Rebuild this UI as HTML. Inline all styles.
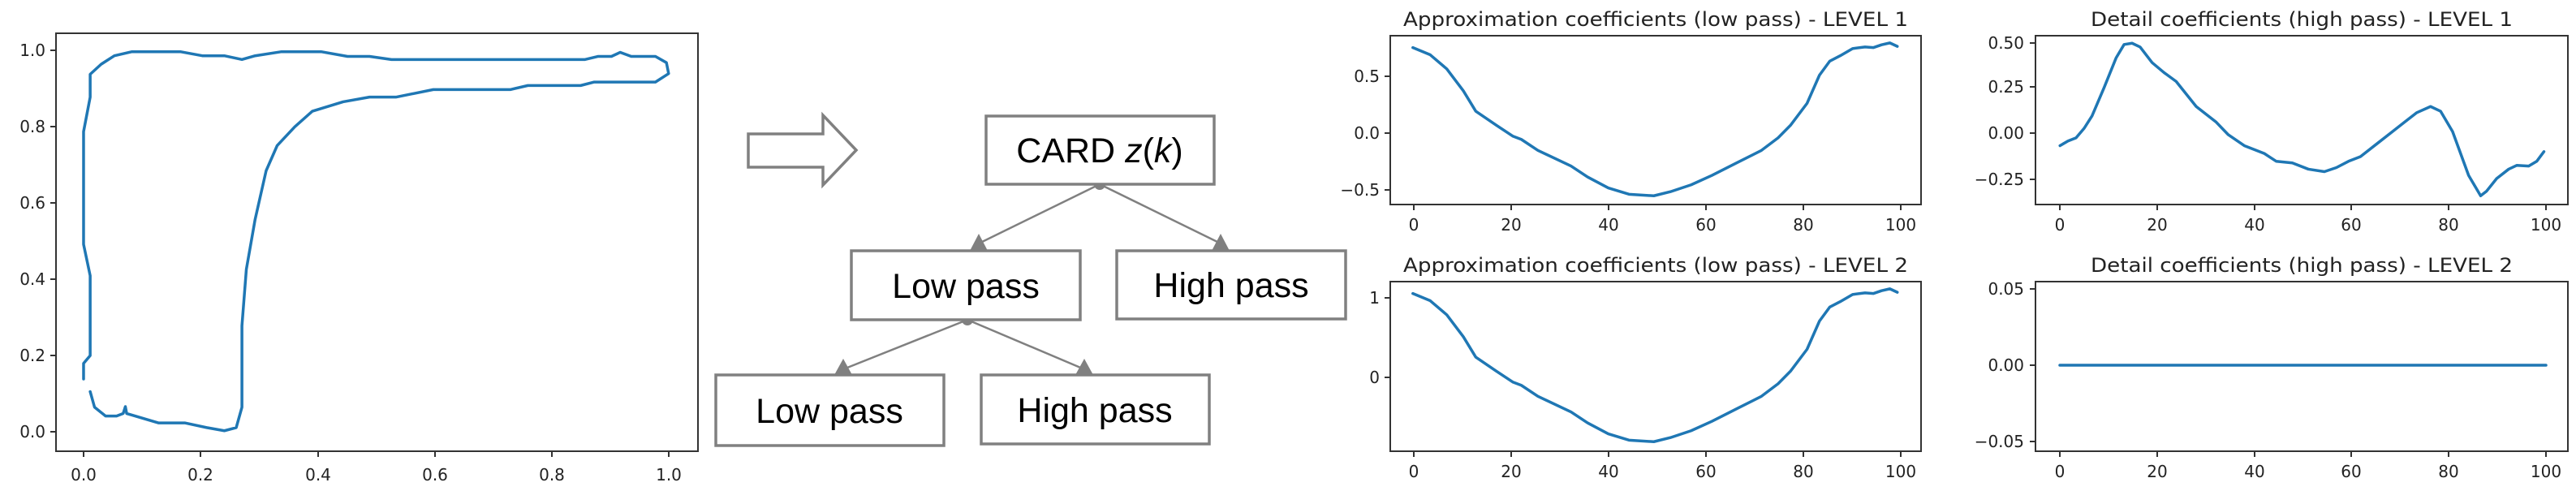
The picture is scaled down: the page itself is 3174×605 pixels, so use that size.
<!DOCTYPE html>
<html><head><meta charset="utf-8"><style>
html,body{margin:0;padding:0;background:#fff;}
svg{display:block;}
.t{font-family:"DejaVu Sans","Liberation Sans",sans-serif;font-size:20px;fill:#222;}
.ti{font-family:"DejaVu Sans","Liberation Sans",sans-serif;font-size:24px;fill:#222;}
.bx{font-family:"Liberation Sans",Arial,sans-serif;font-size:43px;fill:#000;}
.sp{fill:none;stroke:#333;stroke-width:2;}
.tk{stroke:#333;stroke-width:2;}
.cv{fill:none;stroke:#1f77b4;stroke-width:3.5;stroke-linejoin:round;stroke-linecap:round;}
.gb{fill:#fff;stroke:#808080;stroke-width:3.5;}
</style></head><body>
<svg width="3174" height="605" viewBox="0 0 3174 605" xmlns="http://www.w3.org/2000/svg">
<rect width="3174" height="605" fill="#fff"/>

<!-- Plot 1 -->
<rect class="sp" x="69" y="41" width="791" height="515"/>
<g class="tk">
<line x1="103" y1="556" x2="103" y2="563"/><line x1="247" y1="556" x2="247" y2="563"/><line x1="392" y1="556" x2="392" y2="563"/><line x1="536" y1="556" x2="536" y2="563"/><line x1="680" y1="556" x2="680" y2="563"/><line x1="824" y1="556" x2="824" y2="563"/>
<line x1="62" y1="532" x2="69" y2="532"/><line x1="62" y1="438" x2="69" y2="438"/><line x1="62" y1="344" x2="69" y2="344"/><line x1="62" y1="250" x2="69" y2="250"/><line x1="62" y1="156" x2="69" y2="156"/><line x1="62" y1="62" x2="69" y2="62"/>
</g>
<g class="t" text-anchor="middle">
<text x="103" y="592">0.0</text><text x="247" y="592">0.2</text><text x="392" y="592">0.4</text><text x="536" y="592">0.6</text><text x="680" y="592">0.8</text><text x="824" y="592">1.0</text>
</g>
<g class="t" text-anchor="end">
<text x="56" y="539">0.0</text><text x="56" y="445">0.2</text><text x="56" y="351">0.4</text><text x="56" y="257">0.6</text><text x="56" y="163">0.8</text><text x="56" y="69">1.0</text>
</g>
<g transform="scale(0.542,0.386)">
<path class="cv" vector-effect="non-scaling-stroke" d="M190,1210 L190,1160 205,1135 205,880 190,780 190,420 205,310 205,237 230,205 260,178 300,165 410,165 460,178 510,178 550,190 580,178 640,165 730,165 790,180 840,180 890,190 1330,190 1360,180 1390,180 1410,167 1435,180 1490,180 1515,200 1520,235 1490,262 1350,262 1320,273 1200,273 1160,286 985,286 900,310 840,310 780,325 710,355 670,405 630,465 605,545 580,700 560,860 550,1040 550,1300 537,1365 510,1375 470,1365 420,1350 360,1350 300,1325 288,1320 285,1298 280,1320 265,1328 240,1328 215,1300 205,1250"/>
</g>

<!-- Block arrow -->
<polygon class="gb" points="922,165 1014,165 1014,142 1055,185 1014,228 1014,206 922,206" stroke-width="3"/>

<!-- Tree -->
<g stroke="#808080" stroke-width="2.5">
<line x1="1355" y1="227" x2="1206" y2="300"/><line x1="1355" y1="227" x2="1504" y2="300"/>
<line x1="1192" y1="394" x2="1039" y2="455"/><line x1="1192" y1="394" x2="1336" y2="455"/>
</g>
<g fill="#808080">
<polygon points="1206,288 1195,309 1217,309"/><polygon points="1504,288 1493,309 1515,309"/>
<polygon points="1039,442 1028,462 1050,462"/><polygon points="1336,442 1325,462 1347,462"/>
<circle cx="1355" cy="227" r="7"/><circle cx="1192" cy="394" r="7"/>
</g>
<rect class="gb" x="1215" y="143" width="281" height="84"/>
<rect class="gb" x="1049" y="309" width="282" height="85"/>
<rect class="gb" x="1376" y="309" width="282" height="84"/>
<rect class="gb" x="882" y="462" width="281" height="87"/>
<rect class="gb" x="1209" y="462" width="281" height="85"/>
<g class="bx" text-anchor="middle">
<text x="1355" y="200">CARD <tspan font-style="italic">z</tspan>(<tspan font-style="italic">k</tspan>)</text>
<text x="1190" y="367">Low pass</text>
<text x="1517" y="366">High pass</text>
<text x="1022" y="521">Low pass</text>
<text x="1349" y="520">High pass</text>
</g>

<!-- Approx L1 -->
<text class="ti" x="2040" y="32" text-anchor="middle" textLength="622" lengthAdjust="spacingAndGlyphs">Approximation coefficients (low pass) - LEVEL 1</text>
<rect class="sp" x="1713" y="44" width="654" height="208"/>
<g class="tk">
<line x1="1742" y1="252" x2="1742" y2="259"/><line x1="1862" y1="252" x2="1862" y2="259"/><line x1="1982" y1="252" x2="1982" y2="259"/><line x1="2102" y1="252" x2="2102" y2="259"/><line x1="2222" y1="252" x2="2222" y2="259"/><line x1="2342" y1="252" x2="2342" y2="259"/>
<line x1="1706" y1="94" x2="1713" y2="94"/><line x1="1706" y1="164" x2="1713" y2="164"/><line x1="1706" y1="234" x2="1713" y2="234"/>
</g>
<g class="t" text-anchor="middle">
<text x="1742" y="284">0</text><text x="1862" y="284">20</text><text x="1982" y="284">40</text><text x="2102" y="284">60</text><text x="2222" y="284">80</text><text x="2342" y="284">100</text>
</g>
<g class="t" text-anchor="end">
<text x="1700" y="101">0.5</text><text x="1700" y="171">0.0</text><text x="1700" y="241">−0.5</text>
</g>
<g transform="translate(1650,0) scale(0.5102,0.386)">
<path id="ap" class="cv" vector-effect="non-scaling-stroke" d="M178,152 L220,175 260,220 300,290 330,355 380,400 420,435 440,445 480,480 560,530 600,565 650,600 700,620 760,625 800,612 850,590 900,560 960,520 1020,480 1060,440 1090,400 1130,330 1160,240 1185,195 1210,178 1240,155 1270,150 1290,152 1310,143 1330,137 1348,148"/>
</g>

<!-- Approx L2 -->
<text class="ti" x="2040" y="335" text-anchor="middle" textLength="622" lengthAdjust="spacingAndGlyphs">Approximation coefficients (low pass) - LEVEL 2</text>
<rect class="sp" x="1713" y="347" width="654" height="209"/>
<g class="tk">
<line x1="1742" y1="556" x2="1742" y2="563"/><line x1="1862" y1="556" x2="1862" y2="563"/><line x1="1982" y1="556" x2="1982" y2="563"/><line x1="2102" y1="556" x2="2102" y2="563"/><line x1="2222" y1="556" x2="2222" y2="563"/><line x1="2342" y1="556" x2="2342" y2="563"/>
<line x1="1706" y1="367" x2="1713" y2="367"/><line x1="1706" y1="465" x2="1713" y2="465"/>
</g>
<g class="t" text-anchor="middle">
<text x="1742" y="588">0</text><text x="1862" y="588">20</text><text x="1982" y="588">40</text><text x="2102" y="588">60</text><text x="2222" y="588">80</text><text x="2342" y="588">100</text>
</g>
<g class="t" text-anchor="end">
<text x="1700" y="374">1</text><text x="1700" y="472">0</text>
</g>
<g transform="translate(1650,303) scale(0.5102,0.386)">
<path class="cv" vector-effect="non-scaling-stroke" d="M178,152 L220,175 260,220 300,290 330,355 380,400 420,435 440,445 480,480 560,530 600,565 650,600 700,620 760,625 800,612 850,590 900,560 960,520 1020,480 1060,440 1090,400 1130,330 1160,240 1185,195 1210,178 1240,155 1270,150 1290,152 1310,143 1330,137 1348,148"/>
</g>

<!-- Detail L1 -->
<text class="ti" x="2836" y="32" text-anchor="middle" textLength="520" lengthAdjust="spacingAndGlyphs">Detail coefficients (high pass) - LEVEL 1</text>
<rect class="sp" x="2508" y="44" width="656" height="208"/>
<g class="tk">
<line x1="2538" y1="252" x2="2538" y2="259"/><line x1="2658" y1="252" x2="2658" y2="259"/><line x1="2778" y1="252" x2="2778" y2="259"/><line x1="2897" y1="252" x2="2897" y2="259"/><line x1="3017" y1="252" x2="3017" y2="259"/><line x1="3137" y1="252" x2="3137" y2="259"/>
<line x1="2501" y1="53" x2="2508" y2="53"/><line x1="2501" y1="107" x2="2508" y2="107"/><line x1="2501" y1="164" x2="2508" y2="164"/><line x1="2501" y1="221" x2="2508" y2="221"/>
</g>
<g class="t" text-anchor="middle">
<text x="2538" y="284">0</text><text x="2658" y="284">20</text><text x="2778" y="284">40</text><text x="2897" y="284">60</text><text x="3017" y="284">80</text><text x="3137" y="284">100</text>
</g>
<g class="t" text-anchor="end">
<text x="2494" y="60">0.50</text><text x="2494" y="114">0.25</text><text x="2494" y="171">0.00</text><text x="2494" y="228">−0.25</text>
</g>
<g transform="translate(2400,0) scale(0.4936,0.386)">
<path class="cv" vector-effect="non-scaling-stroke" d="M280,465 L300,450 320,440 340,410 360,370 390,280 420,185 440,142 460,138 480,150 510,200 540,232 570,260 620,340 670,390 700,430 740,465 790,490 820,515 860,520 900,540 940,548 970,535 1000,515 1030,500 1070,460 1110,420 1140,390 1170,360 1205,340 1230,355 1260,420 1300,560 1330,625 1345,610 1370,570 1400,540 1420,528 1450,530 1470,515 1488,484"/>
</g>

<!-- Detail L2 -->
<text class="ti" x="2836" y="335" text-anchor="middle" textLength="520" lengthAdjust="spacingAndGlyphs">Detail coefficients (high pass) - LEVEL 2</text>
<rect class="sp" x="2508" y="347" width="656" height="209"/>
<g class="tk">
<line x1="2538" y1="556" x2="2538" y2="563"/><line x1="2658" y1="556" x2="2658" y2="563"/><line x1="2778" y1="556" x2="2778" y2="563"/><line x1="2897" y1="556" x2="2897" y2="563"/><line x1="3017" y1="556" x2="3017" y2="563"/><line x1="3137" y1="556" x2="3137" y2="563"/>
<line x1="2501" y1="356" x2="2508" y2="356"/><line x1="2501" y1="450" x2="2508" y2="450"/><line x1="2501" y1="544" x2="2508" y2="544"/>
</g>
<g class="t" text-anchor="middle">
<text x="2538" y="588">0</text><text x="2658" y="588">20</text><text x="2778" y="588">40</text><text x="2897" y="588">60</text><text x="3017" y="588">80</text><text x="3137" y="588">100</text>
</g>
<g class="t" text-anchor="end">
<text x="2494" y="363">0.05</text><text x="2494" y="457">0.00</text><text x="2494" y="551">−0.05</text>
</g>
<line class="cv" x1="2538" y1="450" x2="3137" y2="450"/>
</svg>
</body></html>
